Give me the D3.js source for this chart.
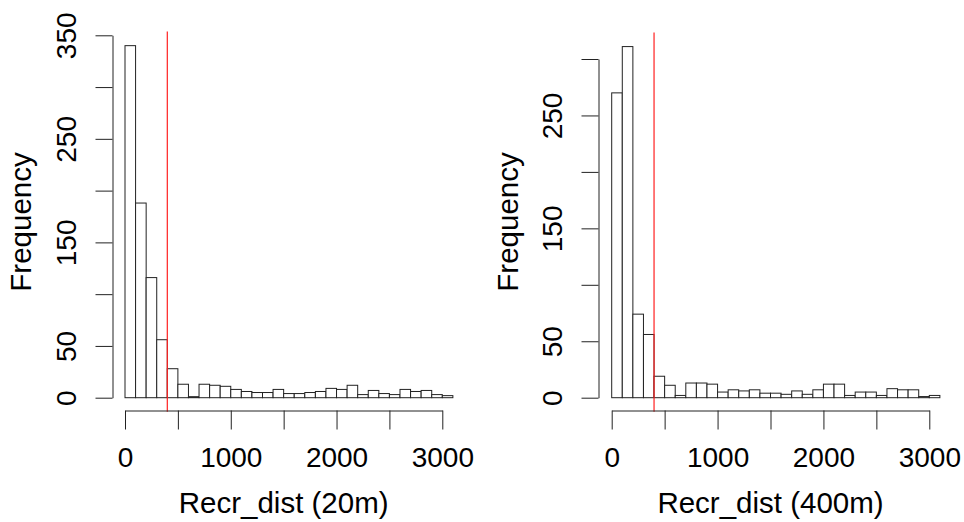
<!DOCTYPE html>
<html>
<head>
<meta charset="utf-8">
<script src="https://cdn.jsdelivr.net/npm/d3@7"></script>
<style>
html,body{margin:0;padding:0;background:#fff;}
svg{display:block;}
text{font-family:"Liberation Sans",Arial,sans-serif;fill:#000;}
</style>
</head>
<body>
<svg id="chart" width="964" height="522"></svg>
<script>
// bin breaks (Recr_dist, metres)
const breaks = [0,100,200,300,400,500,600,700,800,900,1000,1100,1200,1300,1400,1500,
  1600,1700,1800,1900,2000,2100,2200,2300,2400,2500,2600,2700,2800,2900,3000,3100];
// frequencies per bin
const counts20 = [340,188,116,56,28,13,1,13,12,11,8,6,5,5,8,4,4,5,6,9,8,12,3,7,4,3,8,6,7,3,2];
const counts400 = [270,311,74,56,19,11,2,13,13,12,5,7,6,7,4,4,3,6,3,7,12,12,2,5,5,2,8,7,7,1,2];
const xTicks = [0,500,1000,1500,2000,2500,3000];
const xTickLabels = [0,1000,2000,3000];
const yTicks20 = [0,50,100,150,200,250,300,350];
const yLabels20 = [0,50,150,250,350];
const yTicks400 = [0,50,100,150,200,250,300];
const yLabels400 = [0,50,150,250];
const cutoff = 400;
const titles = ["Recr_dist (20m)","Recr_dist (400m)"];
const yTitle = "Frequency";

const FS = 28;
const FST = 29.5;
const svg = d3.select("#chart");

const panels = [
  {counts:counts20, yTicks:yTicks20, yLabels:yLabels20, yMax:350,
   xr:[125,442.3], yr:[397.7,35.3], yAxisX:112.5, title:titles[0], freqX:22.5},
  {counts:counts400, yTicks:yTicks400, yLabels:yLabels400, yMax:300,
   xr:[611.7,929.3], yr:[397.7,59], yAxisX:598.5, title:titles[1], freqX:510}
];

panels.forEach(p=>{
  const x = d3.scaleLinear().domain([0,3000]).range(p.xr);
  const y = d3.scaleLinear().domain([0,p.yMax]).range(p.yr);
  const g = svg.append("g");
  const bins = p.counts.map((c,i)=>({x0:breaks[i], x1:breaks[i+1], n:c}));
  // extended plot region (4%) for the abline
  const cmax = d3.max(p.counts);
  const yLo = y(-0.04*cmax), yHi = y(1.04*cmax);

  g.selectAll("rect.bar").data(bins).enter().append("rect")
    .attr("class","bar")
    .attr("x",d=>x(d.x0))
    .attr("y",d=>y(d.n))
    .attr("width",d=>x(d.x1)-x(d.x0))
    .attr("height",d=>y(0)-y(d.n))
    .attr("fill","#fff").attr("stroke","#222").attr("stroke-width",1);

  g.append("line")
    .attr("x1",x(cutoff)).attr("x2",x(cutoff))
    .attr("y1",yHi).attr("y2",yLo)
    .attr("stroke","#ff2020").attr("stroke-width",1.2);

  // x axis
  const xa = d3.axisBottom(x).tickValues(xTicks).tickSize(19).tickSizeOuter(0).tickPadding(18)
    .tickFormat(d=>xTickLabels.includes(d)?String(d):"");
  const gx = g.append("g").attr("transform","translate(0,410.5)").call(xa);
  gx.select(".domain").attr("stroke","#222");
  gx.selectAll(".tick line").attr("stroke","#222");
  gx.selectAll("text").attr("font-size",FS).attr("font-family",null);

  // y axis
  const ya = d3.axisLeft(y).tickValues(p.yTicks).tickSize(17).tickSizeOuter(0)
    .tickFormat(d=>p.yLabels.includes(d)?String(d):"");
  const gy = g.append("g").attr("transform",`translate(${p.yAxisX},0)`).call(ya);
  gy.select(".domain").attr("stroke","#222");
  gy.selectAll(".tick line").attr("stroke","#222");
  gy.selectAll("text").attr("font-size",FS).attr("font-family",null)
    .attr("x",null).attr("dy","0.36em").attr("text-anchor","middle")
    .attr("transform","translate(-47,0) rotate(-90)");

  // titles
  g.append("text").attr("x",(p.xr[0]+p.xr[1])/2).attr("y",513)
    .attr("text-anchor","middle").attr("font-size",FST).text(p.title);
  g.append("text").attr("transform",`translate(${p.freqX},222) rotate(-90)`)
    .attr("dy","0.28em").attr("text-anchor","middle").attr("font-size",FST).text(yTitle);
});
</script>
</body>
</html>
